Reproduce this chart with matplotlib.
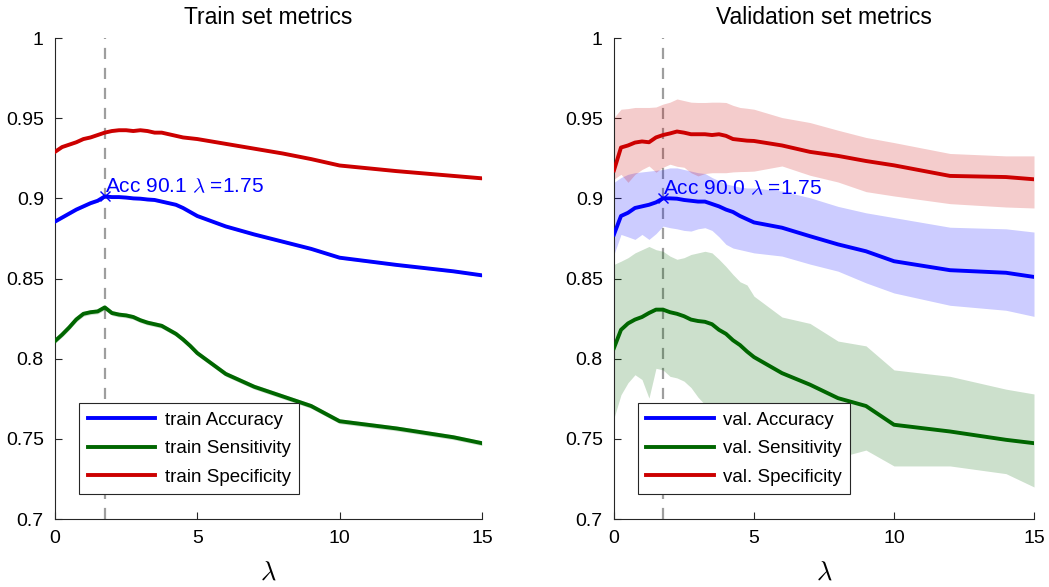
import numpy as np
import matplotlib
matplotlib.use('Agg')
import matplotlib.pyplot as plt

plt.rcParams['font.family'] = ['Liberation Sans', 'DejaVu Sans']
plt.rcParams['mathtext.fontset'] = 'cm'

# regularisation grid
lam = [0, 0.25, 0.5, 0.75, 1, 1.25, 1.5, 1.75, 2, 2.25, 2.5, 2.75, 3, 3.25, 3.5,
       3.75, 4, 4.25, 4.5, 4.75, 5, 6, 7, 8, 9, 10, 12, 14, 15]

# train set (mean over folds, spread is tiny)
train_acc = [0.8855, 0.888, 0.8905, 0.893, 0.895, 0.897, 0.8985, 0.9012, 0.9008, 0.9008,
             0.9005, 0.900, 0.8998, 0.8993, 0.899, 0.898, 0.897, 0.896, 0.894, 0.8915,
             0.889, 0.8825, 0.8775, 0.873, 0.8685, 0.863, 0.8585, 0.8545, 0.852]
train_sens = [0.811, 0.815, 0.8195, 0.8245, 0.828, 0.829, 0.8295, 0.832, 0.8285, 0.8275,
              0.827, 0.826, 0.824, 0.8225, 0.8215, 0.8205, 0.818, 0.8155, 0.812, 0.808,
              0.8035, 0.7905, 0.7825, 0.7765, 0.7705, 0.761, 0.7565, 0.751, 0.7473]
train_spec = [0.929, 0.932, 0.9335, 0.935, 0.937, 0.938, 0.9395, 0.941, 0.942, 0.9425,
              0.9425, 0.942, 0.9425, 0.942, 0.941, 0.941, 0.940, 0.939, 0.938, 0.9375,
              0.937, 0.934, 0.931, 0.928, 0.9245, 0.9205, 0.917, 0.914, 0.9125]
train_spread = [0.0008, 0.0015, 0.0006]   # acc, sens, spec half-width

# validation set: mean, upper and lower bound
val_acc = [0.8775, 0.889, 0.891, 0.894, 0.895, 0.896, 0.8975, 0.900, 0.900, 0.8998,
           0.899, 0.8985, 0.898, 0.898, 0.8965, 0.895, 0.893, 0.8915, 0.889, 0.887,
           0.885, 0.8817, 0.8764, 0.8713, 0.867, 0.8608, 0.8552, 0.8536, 0.851]
val_acc_hi = [0.910, 0.913, 0.915, 0.916, 0.9165, 0.917, 0.9175, 0.918, 0.919, 0.919,
              0.918, 0.917, 0.916, 0.9155, 0.913, 0.911, 0.909, 0.908, 0.907, 0.9065,
              0.9065, 0.9046, 0.9004, 0.895, 0.891, 0.888, 0.882, 0.881, 0.879]
val_acc_lo = [0.865, 0.8775, 0.876, 0.8744, 0.8775, 0.8744, 0.878, 0.8827, 0.8817, 0.881,
              0.880, 0.8796, 0.881, 0.8817, 0.880, 0.876, 0.8713, 0.869, 0.868, 0.867,
              0.866, 0.864, 0.859, 0.8546, 0.8473, 0.841, 0.8333, 0.8302, 0.8264]

val_sens = [0.8067, 0.818, 0.822, 0.8244, 0.826, 0.8285, 0.8306, 0.8306, 0.829, 0.828,
            0.8265, 0.8244, 0.8235, 0.823, 0.8215, 0.818, 0.8155, 0.8115, 0.8085, 0.8045,
            0.801, 0.791, 0.7838, 0.7754, 0.7705, 0.7588, 0.7546, 0.7494, 0.7473]
val_sens_hi = [0.8588, 0.8608, 0.863, 0.866, 0.868, 0.870, 0.868, 0.867, 0.864, 0.862,
               0.863, 0.865, 0.866, 0.867, 0.866, 0.862, 0.8575, 0.8525, 0.848, 0.846,
               0.839, 0.826, 0.822, 0.811, 0.808, 0.793, 0.789, 0.781, 0.778]
val_sens_lo = [0.763, 0.7775, 0.785, 0.790, 0.787, 0.7754, 0.794, 0.793, 0.789, 0.788,
               0.786, 0.782, 0.776, 0.7713, 0.769, 0.766, 0.762, 0.759, 0.755, 0.752,
               0.749, 0.745, 0.742, 0.7383, 0.743, 0.7331, 0.7331, 0.7283, 0.720]

val_spec = [0.9175, 0.9317, 0.933, 0.9348, 0.9355, 0.935, 0.938, 0.9395, 0.9405, 0.9417,
            0.941, 0.940, 0.940, 0.940, 0.9395, 0.940, 0.939, 0.937, 0.9365, 0.936,
            0.9358, 0.933, 0.929, 0.9265, 0.9233, 0.9206, 0.914, 0.9133, 0.9119]
val_spec_hi = [0.9504, 0.9556, 0.956, 0.9567, 0.9567, 0.9567, 0.957, 0.9588, 0.960, 0.962,
               0.961, 0.960, 0.9598, 0.9598, 0.960, 0.960, 0.9598, 0.958, 0.9567, 0.9562,
               0.9556, 0.9504, 0.9473, 0.9425, 0.938, 0.9348, 0.928, 0.9265, 0.9265]
val_spec_lo = [0.912, 0.915, 0.910, 0.915, 0.918, 0.9202, 0.9163, 0.9194, 0.9213, 0.920,
               0.9194, 0.916, 0.914, 0.9155, 0.916, 0.916, 0.916, 0.9165, 0.9167, 0.9168,
               0.917, 0.9202, 0.9144, 0.9102, 0.9042, 0.9015, 0.8967, 0.8946, 0.894]

best_lam = 1.75
best_train_acc = 90.1
best_val_acc = 90.0

c_acc = (0, 0, 1)
c_sens = (0, 0.4, 0)
c_spec = (0.8, 0, 0)
axis_col = (0.15, 0.15, 0.15)

fig = plt.figure(figsize=(10.49, 5.87), dpi=100)
ax1 = fig.add_axes([0.0524, 0.1158, 0.407, 0.8194])
ax2 = fig.add_axes([0.5853, 0.1158, 0.4004, 0.8194])

lam = np.array(lam)


def style(ax, title):
    ax.set_xlim(0, 15)
    ax.set_ylim(0.7, 1)
    ax.set_xticks([0, 5, 10, 15])
    yt = [0.7, 0.75, 0.8, 0.85, 0.9, 0.95, 1]
    ax.set_yticks(yt)
    ax.set_yticklabels(['%g' % v for v in yt])
    for s in ['top', 'right']:
        ax.spines[s].set_visible(False)
    for s in ['left', 'bottom']:
        ax.spines[s].set_color(axis_col)
        ax.spines[s].set_linewidth(0.8)
    ax.tick_params(direction='in', length=5, width=0.8, colors=axis_col,
                   labelsize=14, labelcolor='black', pad=8)
    ax.set_title(title, fontsize=16.5, pad=10)
    ax.set_xlabel(r'$\lambda$', fontsize=19, labelpad=10)


def add_legend(ax):
    leg = ax.legend(loc='lower left', bbox_to_anchor=(0.057, 0.052), fontsize=13.5,
                    fancybox=False, edgecolor=axis_col, handlelength=3.6,
                    borderpad=0.45, labelspacing=0.6, handletextpad=0.5,
                    borderaxespad=0, framealpha=1)
    leg.get_frame().set_linewidth(0.8)


# left: train
style(ax1, 'Train set metrics')
ax1.axvline(best_lam, color=(0.62, 0.62, 0.62), ls=(0, (5, 4)), lw=1.6, zorder=1)
for y, sp, c, name in [(train_acc, train_spread[0], c_acc, 'train Accuracy'),
                       (train_sens, train_spread[1], c_sens, 'train Sensitivity'),
                       (train_spec, train_spread[2], c_spec, 'train Specificity')]:
    y = np.array(y)
    ax1.fill_between(lam, y - sp, y + sp, color=c, alpha=0.2, lw=0, zorder=2)
    ax1.plot(lam, y, color=c, lw=2.8, label=name, zorder=3)
i = list(lam).index(best_lam)
ax1.plot(best_lam, train_acc[i], 'x', color=c_acc, ms=7, mew=1.0, zorder=4)
ax1.text(best_lam, train_acc[i], 'Acc %.1f $\\lambda$ =%.2f' % (best_train_acc, best_lam),
         color=c_acc, fontsize=15, va='bottom', ha='left', zorder=5)
add_legend(ax1)

# right: validation
style(ax2, 'Validation set metrics')
ax2.axvline(best_lam, color=(0.62, 0.62, 0.62), ls=(0, (5, 4)), lw=1.6, zorder=1)
for y, hi, lo, c, name in [(val_acc, val_acc_hi, val_acc_lo, c_acc, 'val. Accuracy'),
                           (val_sens, val_sens_hi, val_sens_lo, c_sens, 'val. Sensitivity'),
                           (val_spec, val_spec_hi, val_spec_lo, c_spec, 'val. Specificity')]:
    ax2.fill_between(lam, lo, hi, color=c, alpha=0.2, lw=0, zorder=2)
    ax2.plot(lam, y, color=c, lw=2.8, label=name, zorder=3)
ax2.plot(best_lam, val_acc[i], 'x', color=c_acc, ms=7, mew=1.0, zorder=4)
ax2.text(best_lam, val_acc[i], 'Acc %.1f $\\lambda$ =%.2f' % (best_val_acc, best_lam),
         color=c_acc, fontsize=15, va='bottom', ha='left', zorder=5)
add_legend(ax2)

fig.savefig('out.png', dpi=100)
